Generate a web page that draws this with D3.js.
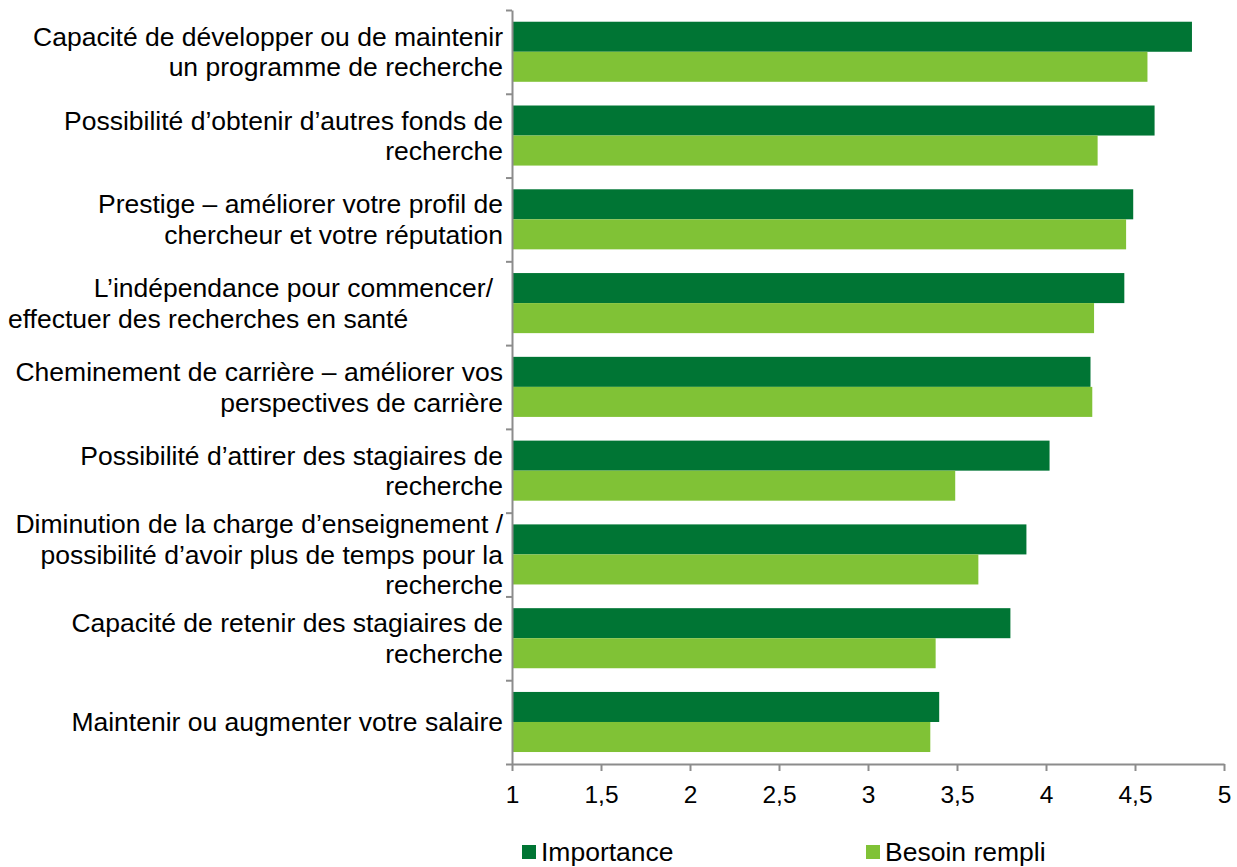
<!DOCTYPE html>
<html>
<head>
<meta charset="utf-8">
<script src="https://cdn.jsdelivr.net/npm/d3@7"></script>
<style>
  body { margin: 0; background: #fff; }
  svg { display: block; font-family: "Liberation Sans", Arial, sans-serif; }
</style>
</head>
<body>
<svg id="chart" width="1237" height="867"></svg>
<script>
// categories, top to bottom, one entry per wrapped line
const categories = [
  ["Capacité de développer ou de maintenir", "un programme de recherche"],
  ["Possibilité d’obtenir d’autres fonds de", "recherche"],
  ["Prestige – améliorer votre profil de", "chercheur et votre réputation"],
  ["L’indépendance pour commencer/", "effectuer des recherches en santé"],
  ["Cheminement de carrière – améliorer vos", "perspectives de carrière"],
  ["Possibilité d’attirer des stagiaires de", "recherche"],
  ["Diminution de la charge d’enseignement /", "possibilité d’avoir plus de temps pour la", "recherche"],
  ["Capacité de retenir des stagiaires de", "recherche"],
  ["Maintenir ou augmenter votre salaire"]
];

const seriesNames = ["Importance", "Besoin rempli"];
const importance = [4.82, 4.61, 4.49, 4.44, 4.25, 4.02, 3.89, 3.80, 3.40];
const besoinRempli = [4.57, 4.29, 4.45, 4.27, 4.26, 3.49, 3.62, 3.38, 3.35];

const xTicks = [1, 1.5, 2, 2.5, 3, 3.5, 4, 4.5, 5];
const xTickLabels = ["1", "1,5", "2", "2,5", "3", "3,5", "4", "4,5", "5"];

const colors = ["#007534", "#80c236"];

(function () {
  const svg = d3.select("#chart");
  const left = 512, right = 1224, top = 10, bottom = 764;
  const axisColor = "#8c8c8c";

  const x = d3.scaleLinear().domain([1, 5]).range([left, right]);

  const y = d3.scaleBand()
    .domain(d3.range(categories.length))
    .range([top, bottom]);

  const inner = d3.scaleBand()
    .domain(seriesNames)
    .range([y.bandwidth() * 0.14, y.bandwidth() * 0.857]);

  const rows = categories.map((c, i) => ({
    i: i,
    values: [importance[i], besoinRempli[i]]
  }));

  // bars
  const rowG = svg.append("g")
    .selectAll("g")
    .data(rows)
    .enter().append("g")
    .attr("transform", d => `translate(0,${y(d.i)})`);

  rowG.selectAll("rect")
    .data(d => d.values.map((v, k) => ({ name: seriesNames[k], value: v, k: k })))
    .enter().append("rect")
    .attr("x", x(1))
    .attr("y", d => inner(d.name))
    .attr("width", d => x(d.value) - x(1))
    .attr("height", inner.bandwidth())
    .attr("fill", d => colors[d.k]);

  // x axis
  const xAxis = svg.append("g")
    .attr("transform", `translate(0,${bottom})`)
    .call(d3.axisBottom(x)
      .tickValues(xTicks)
      .tickFormat((d, i) => xTickLabels[i])
      .tickSize(7)
      .tickSizeOuter(0)
      .tickPadding(15));

  xAxis.selectAll("text")
    .attr("font-size", 24.5)
    .attr("font-family", "Liberation Sans, Arial, sans-serif")
    .attr("fill", "#000");

  // y axis: ticks sit on the category boundaries
  const yBound = d3.scaleLinear().domain([0, categories.length]).range([top, bottom]);
  svg.append("g")
    .attr("transform", `translate(${left},0)`)
    .call(d3.axisLeft(yBound)
      .tickValues(d3.range(categories.length + 1))
      .tickFormat("")
      .tickSize(6)
      .tickSizeOuter(0));

  svg.selectAll(".domain, .tick line")
    .attr("stroke", axisColor)
    .attr("stroke-width", 2);

  // category labels
  const lineH = 30.5;
  const labelRight = 503;
  const labels = svg.append("g")
    .attr("font-size", 26.5)
    .attr("fill", "#000");

  categories.forEach((lines, ci) => {
    const cy = y(ci) + y.bandwidth() / 2;
    lines.forEach((line, li) => {
      let tx = labelRight, anchor = "end";
      // this label wrapped unevenly in the original
      if (ci === 3 && li === 0) tx = labelRight - 10;
      if (ci === 3 && li === 1) { tx = 8; anchor = "start"; }
      labels.append("text")
        .attr("x", tx)
        .attr("y", cy + (li - (lines.length - 1) / 2) * lineH)
        .attr("dy", "0.35em")
        .attr("text-anchor", anchor)
        .text(line);
    });
  });

  // legend
  const legendX = [522, 866];
  const legend = svg.append("g")
    .selectAll("g")
    .data(seriesNames)
    .enter().append("g")
    .attr("transform", (d, i) => `translate(${legendX[i]},845)`);

  legend.append("rect")
    .attr("width", 14)
    .attr("height", 14)
    .attr("fill", (d, i) => colors[i]);

  legend.append("text")
    .attr("x", 19)
    .attr("y", 7)
    .attr("dy", "0.35em")
    .attr("font-size", 26.5)
    .text(d => d);
}());
</script>
</body>
</html>
